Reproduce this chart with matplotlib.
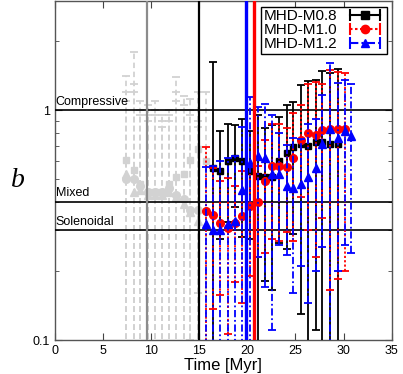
import numpy as np
import matplotlib
matplotlib.use("Agg")
import matplotlib.pyplot as plt
from matplotlib.lines import Line2D
from matplotlib.legend_handler import HandlerLine2D, HandlerTuple

plt.rcParams["font.family"] = ["Liberation Sans", "DejaVu Sans"]

# output times [Myr]
t_all = [7.4, 8.2, 8.9, 9.7, 10.4, 11.1, 11.9, 12.6, 13.4, 14.1, 14.9, 15.7,
         16.4, 17.2, 18.0, 18.7, 19.5, 20.3, 21.1, 21.8, 22.6, 23.3, 24.1, 24.8,
         25.6, 26.3, 27.1, 27.8, 28.6, 29.4, 30.1, 30.8]

# MHD-M0.8 (coloured part k=12..29, grey part k=0..11)
b08 = [0.56, 0.545, 0.60, 0.62, 0.60, 0.545, 0.52, 0.51, 0.515, 0.60, 0.65,
       0.69, 0.71, 0.70, 0.73, 0.73, 0.71, 0.71]
err08 = [1.06, 0.27, 0.275, 0.24, 0.32, 0.27, 0.43, 0.33, 0.35, 0.335, 0.40,
         0.40, 0.58, 0.64, 0.62, 0.75, 0.74, 0.81]
b08_grey = [0.607, 0.55, 0.48, 0.44, 0.44, 0.44, 0.48, 0.51, 0.53, 0.61, 0.68, 0.60]
err08_grey = [0.80, 1.25, 0.62, 0.61, 0.66, 0.51, 0.52, 0.89, 0.62, 0.51, 0.52, 0.60]

# MHD-M1.0 (k=11..30, grey k=0..10)
b10 = [0.365, 0.35, 0.324, 0.306, 0.324, 0.345, 0.385, 0.40, 0.49, 0.575, 0.57,
       0.565, 0.62, 0.74, 0.80, 0.78, 0.82, 0.83, 0.83, 0.83]
err10 = [0.325, 0.213, 0.167, 0.2, 0.145, 0.2, 0.195, 0.17, 0.25, 0.3, 0.3,
         0.27, 0.35, 0.32, 0.5, 0.55, 0.48, 0.665, 0.645, 0.63]
b10_grey = [0.5, 0.5, 0.47, 0.44, 0.44, 0.44, 0.46, 0.43, 0.41, 0.37, 0.37]
err10_grey = [0.7, 0.8, 0.53, 0.51, 0.56, 0.46, 0.49, 0.77, 0.64, 0.63, 0.53]

# MHD-M1.2 (k=11..31, grey k=0..10)
b12 = [0.319, 0.30, 0.30, 0.32, 0.33, 0.45, 0.59, 0.63, 0.62, 0.53, 0.53, 0.47,
       0.46, 0.48, 0.51, 0.56, 0.71, 0.83, 0.76, 0.81, 0.77]
err12 = [0.25, 0.275, 0.3, 0.3, 0.3, 0.4, 0.55, 0.4, 0.45, 0.42, 0.27, 0.236,
         0.3, 0.27, 0.365, 0.36, 0.456, 0.78, 0.56, 0.55, 0.53]
b12_grey = [0.53, 0.44, 0.45, 0.43, 0.43, 0.43, 0.44, 0.42, 0.39, 0.36, 0.33]
err12_grey = [0.57, 0.76, 0.5, 0.47, 0.52, 0.42, 0.46, 0.68, 0.61, 0.59, 0.52]

# reference levels and marked times
levels = [1.0, 0.4, 0.3]
level_names = ["Compressive", "Mixed", "Solenoidal"]
vlines_t = [9.55, 15.0, 19.9, 20.7]
vlines_c = ["#8c8c8c", "black", "blue", "red"]
vlines_w = [1.6, 1.6, 2.4, 2.4]

GREY = "#d2d2d2"
RED_LS = (0, (1.2, 1.2))
BLUE_LS = (0, (4, 1.5, 1, 1.5))


def errbar(ax, t, b, err, color, ls, marker, ms, z):
    b = np.array(b)
    err = np.array(err)
    lo = np.minimum(err, b - 1e-3)  # bars reaching below 0 run off the axis
    eb = ax.errorbar(t, b, yerr=[lo, err], fmt=marker, color=color, ms=ms,
                     mec=color, mfc=color, ecolor=color, elinewidth=1.3,
                     capsize=2.8, capthick=1.3, zorder=z)
    eb[2][0].set_linestyle(ls)
    return eb


fig = plt.figure(figsize=(4.03, 3.74), dpi=100)
ax = fig.add_axes([0.1357, 0.0909, 0.8363, 0.9071])

# grey (early) points
errbar(ax, t_all[0:12], b08_grey, err08_grey, GREY, (0, (3, 2)), "s", 5, 2)
errbar(ax, t_all[0:11], b10_grey, err10_grey, GREY, (0, (3, 2)), "o", 5.5, 2)
errbar(ax, t_all[0:11], b12_grey, err12_grey, GREY, (0, (3, 2)), "^", 5.5, 2)

for lv, name in zip(levels, level_names):
    ax.axhline(lv, color="black", lw=1.2, zorder=3)
    ax.text(0.1, lv * 1.025, name, fontsize=9, ha="left", va="bottom", zorder=3)

errbar(ax, t_all[12:30], b08, err08, "black", "-", "s", 5, 4)
errbar(ax, t_all[11:31], b10, err10, "red", RED_LS, "o", 5.5, 5)
errbar(ax, t_all[11:32], b12, err12, "blue", BLUE_LS, "^", 5.5, 6)

for tv, c, w in zip(vlines_t, vlines_c, vlines_w):
    ax.axvline(tv, color=c, lw=w, zorder=7 if c != "#8c8c8c" else 3)

ax.set_yscale("log")
ax.set_xlim(0, 35)
ax.set_ylim(0.1, 3.0)
ax.set_xticks([0, 5, 10, 15, 20, 25, 30, 35])
ax.set_yticks([0.1, 1])
ax.set_yticklabels(["0.1", "1"])
ax.tick_params(which="both", direction="in", top=True, right=True, labelsize=9,
               color="#444444")
ax.tick_params(which="major", length=5)
ax.tick_params(which="minor", length=3)
ax.tick_params(axis="y", which="minor", labelleft=False)
for s in ax.spines.values():
    s.set_color("#555555")
    s.set_linewidth(1.0)

ax.set_xlabel("Time [Myr]", fontsize=12, labelpad=1)
ax.set_ylabel("b", fontsize=20, family="Liberation Serif", style="italic",
              rotation=0, va="center", ha="center")
ax.yaxis.set_label_coords(-0.11, 0.47)

# legend: text first, sample with end caps after
handles = []
hmap = {tuple: HandlerTuple(ndivide=1, pad=0)}
for c, ls, mk, ms in [("black", "-", "s", 5.5), ("red", RED_LS, "o", 6),
                      ("blue", BLUE_LS, "^", 6)]:
    cap = Line2D([], [], color=c, ls=ls, lw=1.5, marker="|", ms=8, mew=1.5)
    mk_line = Line2D([], [], color=c, ls="none", marker=mk, ms=ms)
    hmap[cap] = HandlerLine2D(numpoints=2)
    hmap[mk_line] = HandlerLine2D(numpoints=1)
    handles.append((cap, mk_line))
leg = ax.legend(handles, ["MHD-M0.8", "MHD-M1.0", "MHD-M1.2"], handler_map=hmap,
                loc="upper right", bbox_to_anchor=(0.995, 0.99), fontsize=11,
                markerfirst=False, fancybox=False, edgecolor="black",
                framealpha=1, borderpad=0.15, labelspacing=0.0,
                handlelength=2.6, handletextpad=0.5, borderaxespad=0.2)
leg.get_frame().set_linewidth(1.0)
leg.set_zorder(10)

fig.savefig("out.png", dpi=100)
